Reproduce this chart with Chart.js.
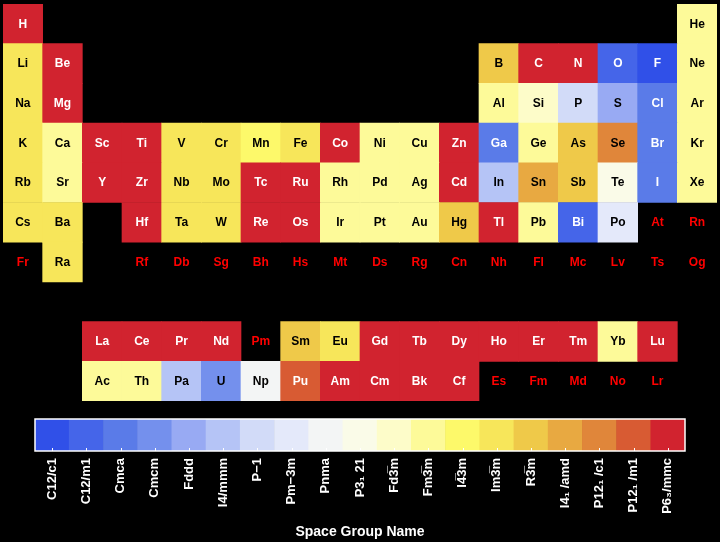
<!DOCTYPE html>
<html>
<head>
<meta charset="utf-8">
<script src="https://cdn.jsdelivr.net/npm/chart.js@4.4.0/dist/chart.umd.min.js"></script>
<style>
  html, body { margin: 0; padding: 0; background: #000; }
  #wrap     { position: relative; width: 720px; height: 542px; overflow: hidden; }
  #tableBox { position: absolute; left: 0; top: 0; }
  #barBox   { position: absolute; left: 0; top: 400px; }
</style>
</head>
<body>
<div id="wrap">
  <div id="tableBox"><canvas id="tableChart" width="720" height="410"></canvas></div>
  <div id="barBox"><canvas id="barChart" width="720" height="142"></canvas></div>
</div>
<script>
'use strict';

/* ───────────────────────────────────────────
   DATA
─────────────────────────────────────────── */
const spaceGroups = [
  'C12/c1', 'C12/m1', 'Cmca', 'Cmcm', 'Fddd', 'I4/mmm', 'P\u22121', 'Pm\u22123m',
  'Pnma', 'P3\u2081 21', 'Fd3\u0305m', 'Fm3\u0305m', 'I4\u03053m', 'Im3\u0305m', 'R3\u0305m',
  'I4\u2081 /amd', 'P12\u2081 /c1', 'P12\u2081 /m1', 'P6\u2083/mmc'
];

const groupColors = [
  '#3050e8', '#4565e9', '#5a7be8', '#7490ed', '#98aaf3', '#b5c4f6', '#d2dbf8', '#e4e9fa',
  '#f3f5f5', '#fafbe8', '#fdfcc9', '#fdfa99', '#fdf96a', '#f7e65a', '#efc949',
  '#e8a941', '#e0863a', '#d85b33', '#d1232f'
];

const barLevels = [1, 1, 1, 1, 1, 1, 1, 1, 1, 1, 1, 1, 1, 1, 1, 1, 1, 1, 1];

const groupColumns = ['1','2','3','4','5','6','7','8','9','10','11','12','13','14','15','16','17','18'];

const gridRows = [
  ['H','','','','','','','','','','','','','','','','','He'],
  ['Li','Be','','','','','','','','','','','B','C','N','O','F','Ne'],
  ['Na','Mg','','','','','','','','','','','Al','Si','P','S','Cl','Ar'],
  ['K','Ca','Sc','Ti','V','Cr','Mn','Fe','Co','Ni','Cu','Zn','Ga','Ge','As','Se','Br','Kr'],
  ['Rb','Sr','Y','Zr','Nb','Mo','Tc','Ru','Rh','Pd','Ag','Cd','In','Sn','Sb','Te','I','Xe'],
  ['Cs','Ba','','Hf','Ta','W','Re','Os','Ir','Pt','Au','Hg','Tl','Pb','Bi','Po','At','Rn'],
  ['Fr','Ra','','Rf','Db','Sg','Bh','Hs','Mt','Ds','Rg','Cn','Nh','Fl','Mc','Lv','Ts','Og'],
  [],
  ['','','La','Ce','Pr','Nd','Pm','Sm','Eu','Gd','Tb','Dy','Ho','Er','Tm','Yb','Lu',''],
  ['','','Ac','Th','Pa','U','Np','Pu','Am','Cm','Bk','Cf','Es','Fm','Md','No','Lr','']
];

/* index into spaceGroups; elements not listed have no data */
const structure = {
  H:18, He:11,
  Li:13, Be:18, B:14, C:18, N:18, O:1, F:0, Ne:11,
  Na:13, Mg:18, Al:11, Si:10, P:6, S:4, Cl:2, Ar:11,
  K:13, Ca:11, Sc:18, Ti:18, V:13, Cr:13, Mn:12, Fe:13, Co:18, Ni:11, Cu:11, Zn:18,
  Ga:2, Ge:11, As:14, Se:16, Br:2, Kr:11,
  Rb:13, Sr:11, Y:18, Zr:18, Nb:13, Mo:13, Tc:18, Ru:18, Rh:11, Pd:11, Ag:11, Cd:18,
  In:5, Sn:15, Sb:14, Te:9, I:2, Xe:11,
  Cs:13, Ba:13, Hf:18, Ta:13, W:13, Re:18, Os:18, Ir:11, Pt:11, Au:11, Hg:14,
  Tl:18, Pb:11, Bi:1, Po:7,
  Ra:13,
  La:18, Ce:18, Pr:18, Nd:18, Sm:14, Eu:13, Gd:18, Tb:18, Dy:18, Ho:18, Er:18, Tm:18, Yb:11, Lu:18,
  Ac:11, Th:11, Pa:5, U:3, Np:8, Pu:17, Am:18, Cm:18, Bk:18, Cf:18
};

const FONT = '"Liberation Sans", Arial, Helvetica, sans-serif';
Chart.defaults.color = '#ffffff';
Chart.defaults.font.family = FONT;

/* ───────────────────────────────────────────
   PERIODIC TABLE
─────────────────────────────────────────── */
const cells = [], cellColors = [];
gridRows.forEach((row, r) => {
  row.forEach((sym, c) => {
    if (sym && sym in structure) {
      cells.push({ x: groupColumns[c], y: [r, r + 1] });
      cellColors.push(groupColors[structure[sym]]);
    }
  });
});

function textColorFor(sym) {
  if (!(sym in structure)) return '#ff0000';
  const g = structure[sym];
  return (g <= 2 || g >= 17) ? '#ffffff' : '#000000';
}

const symbolLabels = {
  id: 'symbolLabels',
  afterDatasetsDraw(chart) {
    const { ctx, scales: { x, y } } = chart;
    ctx.save();
    ctx.font = 'bold 12px ' + FONT;
    ctx.textAlign = 'center';
    ctx.textBaseline = 'middle';
    gridRows.forEach((row, r) => {
      row.forEach((sym, c) => {
        if (!sym) return;
        ctx.fillStyle = textColorFor(sym);
        ctx.fillText(sym, x.getPixelForValue(c), y.getPixelForValue(r + 0.5) + 0.5);
      });
    });
    ctx.restore();
  }
};

new Chart(document.getElementById('tableChart'), {
  type: 'bar',
  data: {
    labels: groupColumns,
    datasets: [{
      data: cells,
      backgroundColor: cellColors,
      borderWidth: 0,
      categoryPercentage: 1,
      barPercentage: 1
    }]
  },
  options: {
    responsive: false,
    animation: false,
    layout: { padding: { left: 3, right: 3, top: 4, bottom: 9 } },
    plugins: { legend: { display: false }, tooltip: { enabled: false } },
    scales: {
      x: { display: false },
      y: { display: false, min: 0, max: 10, reverse: true }
    }
  },
  plugins: [symbolLabels]
});

/* ───────────────────────────────────────────
   COLOUR BAR
─────────────────────────────────────────── */
const barFrame = {
  id: 'barFrame',
  afterDatasetsDraw(chart) {
    const { ctx, chartArea: a, scales: { x } } = chart;
    ctx.save();
    ctx.strokeStyle = '#ffffff';
    ctx.lineWidth = 1;
    for (let i = 0; i < spaceGroups.length; i++) {
      const px = Math.round(x.getPixelForTick(i)) + 0.5;
      ctx.beginPath();
      ctx.moveTo(px, a.bottom);
      ctx.lineTo(px, a.bottom - 3);
      ctx.stroke();
    }
    ctx.lineWidth = 1.5;
    ctx.strokeRect(a.left, a.top, a.right - a.left, a.bottom - a.top);
    ctx.restore();
  }
};

new Chart(document.getElementById('barChart'), {
  type: 'bar',
  data: {
    labels: spaceGroups,
    datasets: [{
      data: barLevels,
      backgroundColor: groupColors,
      borderWidth: 0,
      categoryPercentage: 1,
      barPercentage: 1
    }]
  },
  options: {
    responsive: false,
    animation: false,
    layout: { padding: { left: 35, right: 35, top: 19, bottom: 0 } },
    plugins: { legend: { display: false }, tooltip: { enabled: false } },
    scales: {
      x: {
        grid: { display: false },
        border: { display: false },
        ticks: {
          autoSkip: false, minRotation: 90, maxRotation: 90, padding: -1,
          color: '#ffffff', font: { size: 13, weight: 'bold' }
        },
        title: {
          display: true, text: 'Space Group Name', color: '#ffffff',
          font: { size: 14, weight: 'bold' }, padding: { top: 4, bottom: 1 }
        },
        afterFit(scale) { scale.height = 91; }
      },
      y: { display: false, min: 0, max: 1 }
    }
  },
  plugins: [barFrame]
});
</script>
</body>
</html>
